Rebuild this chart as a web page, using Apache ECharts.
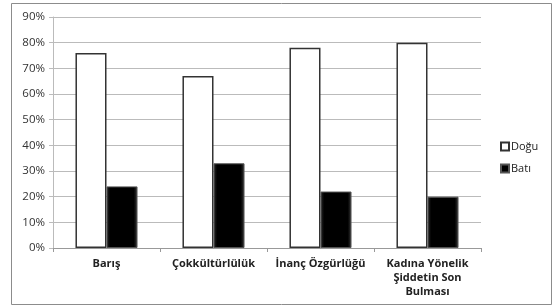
<!DOCTYPE html>
<html>
<head>
<meta charset="utf-8">
<script src="https://cdn.jsdelivr.net/npm/echarts@6/dist/echarts.min.js"></script>
<style>
    html, body { margin: 0; padding: 0; background: #fff; }
    #chart { width: 556px; height: 308px; }
</style>
</head>
<body>
<div id="chart"></div>
<script>
    // kategoriler ve değerler (%)
    let categories = ['Barış', 'Çokkültürlülük', 'İnanç Özgürlüğü', 'Kadına Yönelik\nŞiddetin Son\nBulması']
    let doguValues = [76, 67, 78, 80]
    let batiValues = [24, 33, 22, 20]
    let yTicks = [0, 10, 20, 30, 40, 50, 60, 70, 80, 90]

    let chart = echarts.init(document.getElementById('chart'))
    chart.setOption({
        backgroundColor: '#fff',
        animation: false,
        textStyle: { fontFamily: 'Open Sans' },
        graphic: [{
            type: 'rect',
            shape: { x: 11.5, y: 3.5, width: 540, height: 301 },
            style: { fill: 'none', stroke: '#8c8c8c', lineWidth: 1 },
            silent: true
        }],
        legend: {
            orient: 'vertical',
            left: 495,
            top: 136,
            itemWidth: 8,
            itemHeight: 8,
            itemGap: 11,
            icon: 'rect',
            textStyle: { fontSize: 11, color: '#222', padding: [0, 0, 0, -3] },
            data: ['Doğu', 'Batı']
        },
        grid: {
            left: 53,
            right: 75,
            top: 17,
            bottom: 60,
            containLabel: false
        },
        xAxis: {
            type: 'category',
            data: categories,
            axisLine: { lineStyle: { color: '#999' } },
            axisTick: { show: true, alignWithLabel: false, length: 4, lineStyle: { color: '#999' } },
            axisLabel: {
                fontSize: 11,
                fontWeight: 'bold',
                color: '#222',
                margin: 9,
                lineHeight: 14,
                interval: 0
            }
        },
        yAxis: {
            type: 'value',
            min: 0,
            max: 90,
            interval: 10,
            axisLine: { show: true, lineStyle: { color: '#bbb' } },
            axisTick: { show: true, length: 4, lineStyle: { color: '#bbb' } },
            axisLabel: {
                fontSize: 11.5,
                color: '#333',
                margin: 8,
                formatter: function (v) { return yTicks.indexOf(v) >= 0 ? v + '%' : '' }
            },
            splitLine: { lineStyle: { color: '#bbb' } }
        },
        series: [
            {
                name: 'Doğu',
                type: 'bar',
                data: doguValues,
                barGap: '0%',
                barCategoryGap: '42%',
                itemStyle: { color: '#fff', borderColor: '#333', borderWidth: 1.5 }
            },
            {
                name: 'Batı',
                type: 'bar',
                data: batiValues,
                itemStyle: {
                    color: new echarts.graphic.LinearGradient(0, 0, 1, 0, [
                        { offset: 0, color: '#2a2a2a' },
                        { offset: 0.12, color: '#000' },
                        { offset: 0.88, color: '#000' },
                        { offset: 1, color: '#3a3a3a' }
                    ]),
                    borderColor: '#555',
                    borderWidth: 1
                }
            }
        ]
    })
</script>
</body>
</html>
